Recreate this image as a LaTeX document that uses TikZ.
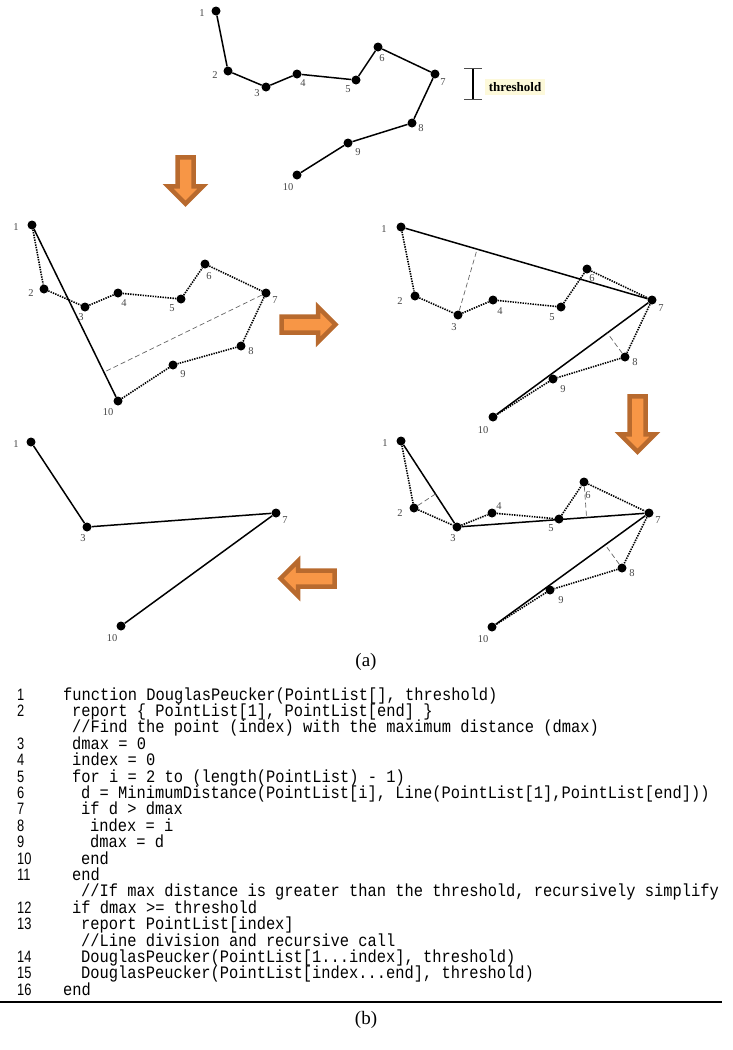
\documentclass[tikz,border=0pt]{standalone}
\usepackage{fontspec}
\setmainfont{Liberation Serif}
\newfontfamily\codefont{Liberation Mono}[FakeStretch=0.88]
\newfontfamily\numfont{Liberation Sans}[FakeStretch=0.78]
\usepackage{tikz}
\usetikzlibrary{calc}
\usetikzlibrary{shapes.arrows}
\usetikzlibrary{arrows.meta}
\definecolor[named]{arrowedge}{RGB}{184,106,46}
\definecolor[named]{arrowfill}{RGB}{247,150,70}

\begin{document}
\begin{tikzpicture}[x=1pt,y=-1pt]
    \definecolor{lblgray}{RGB}{70,70,70};
    \definecolor{thrfill}{RGB}{253,249,218};
   \useasboundingbox (0,0) rectangle (733,1050);
   \tikzstyle{pt}=[draw=none,shape=circle,fill=black,inner sep=0pt,minimum size=9pt]
   \tikzstyle{lbl}=[inner sep=0pt,text=lblgray,font=\fontsize{10.5}{10.5}\selectfont]
   \tikzstyle{seg}=[line width=1.5pt]
   \tikzstyle{dots}=[line width=1.6pt,dash pattern=on 1.4pt off 1.1pt]
   \tikzstyle{perp}=[line width=0.7pt,draw=black!60,dash pattern=on 5pt off 3pt]
   \tikzstyle{bigarrow}=[single arrow,draw=arrowedge,fill=arrowfill,line width=4.5pt,inner xsep=0pt,inner ysep=5.75pt,single arrow head extend=9.5pt,minimum height=54pt]
   \tikzstyle{code}=[anchor=base west,inner sep=0pt,font=\codefont\fontsize{17.5}{18}\selectfont]
   \tikzstyle{num}=[anchor=base west,inner sep=0pt,font=\numfont\fontsize{16.5}{16.5}\selectfont]
   % original line
   \foreach \n/\x/\y/\lx/\ly in {1/216/11/202/13, 2/228/71/215/75, 3/266/87/257/93, 4/297/74/303/83, 5/356/80/348/89,
      6/378/47/382/58, 7/435/74/443/82, 8/412/123/421/128, 9/348/143/358/152, 10/297/175/288/187}
   {
      \node[pt] (orig\n) at (\x,\y) {};
      \node[lbl] (origlbl\n) at (\lx,\ly) {\n};
   }
   \foreach \n [remember=\n as \lastn (initially 1)] in {2,...,10}
      \draw[seg] (orig\lastn) -- (orig\n);
   \coordinate (thrtop) at (473,68);
   \coordinate (thrbot) at (473,100);
   \draw[line width=2.2pt,{Bar[width=18pt,line width=1.2pt,color=black!70]}-{Bar[width=18pt,line width=1.2pt,color=black!70]}] (thrtop) -- (thrbot);
   \node[fill=thrfill,inner xsep=4pt,inner ysep=3pt,font=\fontsize{13}{13}\selectfont] (thrlbl) at (515,87) {\textbf{threshold}};
   % first split: 1 to 10
   \foreach \n/\x/\y/\lx/\ly in {1/32/225/16/227, 2/44/289/31/293, 3/85/307/81/317, 4/118/293/124/303, 5/181/299/172/308,
      6/205/264/209/276, 7/266/293/275/300, 8/241/346/251/351, 9/173/365/183/374, 10/118/401/108/412}
   {
      \node[pt] (first\n) at (\x,\y) {};
      \node[lbl] (firstlbl\n) at (\lx,\ly) {\n};
   }
   \foreach \n [remember=\n as \lastn (initially 1)] in {2,...,10}
      \draw[dots] (first\lastn) -- (first\n);
   \draw[seg] (first1) -- (first10);
   \coordinate (firstfoot7) at ($(first1)!(first7)!(first10)$);
   \draw[perp] (first7) -- (firstfoot7);
   % second split: 1 to 7 to 10
   \foreach \n/\x/\y/\lx/\ly in {1/401/227/384/229, 2/415/296/400/301, 3/458/315/454/327, 4/493/300/500/311, 5/561/307/552/317,
      6/587/269/592/278, 7/652/300/661/308, 8/625/357/635/362, 9/553/379/563/389, 10/493/417/483/430}
   {
      \node[pt] (second\n) at (\x,\y) {};
      \node[lbl] (secondlbl\n) at (\lx,\ly) {\n};
   }
   \foreach \n [remember=\n as \lastn (initially 1)] in {2,...,10}
      \draw[dots] (second\lastn) -- (second\n);
   \draw[seg] (second1) -- (second7) -- (second10);
   \coordinate (secondfoot3) at ($(second1)!(second3)!(second7)$);
   \coordinate (secondfoot8) at ($(second7)!(second8)!(second10)$);
   \draw[perp] (second3) -- (secondfoot3);
   \draw[perp] (second8) -- (secondfoot8);
   % third split: 1 to 3 to 7 to 10
   \foreach \n/\x/\y/\lx/\ly in {1/401/441/385/443, 2/414/508/400/513, 3/457/527/453/538, 4/492/513/499/506, 5/559/519/551/528,
      6/584/482/588/495, 7/649/513/658/520, 8/622/568/632/573, 9/550/590/561/600, 10/492/627/483/639}
   {
      \node[pt] (third\n) at (\x,\y) {};
      \node[lbl] (thirdlbl\n) at (\lx,\ly) {\n};
   }
   \foreach \n [remember=\n as \lastn (initially 1)] in {2,...,10}
      \draw[dots] (third\lastn) -- (third\n);
   \draw[seg] (third1) -- (third3) -- (third7) -- (third10);
   \coordinate (thirdfoot2) at ($(third1)!(third2)!(third3)$);
   \coordinate (thirdfoot6) at ($(third3)!(third6)!(third7)$);
   \coordinate (thirdfoot8) at ($(third7)!(third8)!(third10)$);
   \draw[perp] (third2) -- (thirdfoot2);
   \draw[perp] (third6) -- (thirdfoot6);
   \draw[perp] (third8) -- (thirdfoot8);
   % result
   \foreach \n/\x/\y/\lx/\ly in {1/31/442/16/444, 3/87/527/83/538, 7/276/513/285/520, 10/121/626/112/638}
   {
      \node[pt] (final\n) at (\x,\y) {};
      \node[lbl] (finallbl\n) at (\lx,\ly) {\n};
   }
   \draw[seg] (final1) -- (final3) -- (final7) -- (final10);
   % block arrows
   \node[bigarrow,rotate=-90,minimum height=46.5pt] (arrowdown) at (185.5,176.5) {};
   \node[bigarrow] (arrowright) at (304.5,324.5) {};
   \node[bigarrow,rotate=-90,minimum height=55.5pt] (arrowdowntwo) at (637.5,420) {};
   \node[bigarrow,rotate=180] (arrowleft) at (311.5,578.5) {};
   \node[font=\fontsize{19}{19}\selectfont] (capa) at (366,662) {(a)};
   % pseudo code
   \node[num] (n1) at (17,700) {1};
   \node[code] (c1) at (63,700) {function DouglasPeucker(PointList[], threshold)};
   \node[num] (n2) at (17,716.4) {2};
   \node[code] (c2) at (72,716.4) {report \{ PointList[1], PointList[end] \}};
   \node[code] (cm1) at (72,732.8) {//Find the point (index) with the maximum distance (dmax)};
   \node[num] (n3) at (17,749.2) {3};
   \node[code] (c3) at (72,749.2) {dmax = 0};
   \node[num] (n4) at (17,765.6) {4};
   \node[code] (c4) at (72,765.6) {index = 0};
   \node[num] (n5) at (17,782) {5};
   \node[code] (c5) at (72,782) {for i = 2 to (length(PointList) - 1)};
   \node[num] (n6) at (17,798.4) {6};
   \node[code] (c6) at (81,798.4) {d = MinimumDistance(PointList[i], Line(PointList[1],PointList[end]))};
   \node[num] (n7) at (17,814.8) {7};
   \node[code] (c7) at (81,814.8) {if d > dmax};
   \node[num] (n8) at (17,831.2) {8};
   \node[code] (c8) at (90,831.2) {index = i};
   \node[num] (n9) at (17,847.6) {9};
   \node[code] (c9) at (90,847.6) {dmax = d};
   \node[num] (n10) at (17,864) {10};
   \node[code] (c10) at (81,864) {end};
   \node[num] (n11) at (17,880.4) {11};
   \node[code] (c11) at (72,880.4) {end};
   \node[code] (cm2) at (81,896.8) {//If max distance is greater than the threshold, recursively simplify};
   \node[num] (n12) at (17,913.2) {12};
   \node[code] (c12) at (72,913.2) {if dmax >= threshold};
   \node[num] (n13) at (17,929.6) {13};
   \node[code] (c13) at (81,929.6) {report PointList[index]};
   \node[code] (cm3) at (81,946) {//Line division and recursive call};
   \node[num] (n14) at (17,962.4) {14};
   \node[code] (c14) at (81,962.4) {DouglasPeucker(PointList[1...index], threshold)};
   \node[num] (n15) at (17,978.8) {15};
   \node[code] (c15) at (81,978.8) {DouglasPeucker(PointList[index...end], threshold)};
   \node[num] (n16) at (17,995.2) {16};
   \node[code] (c16) at (63,995.2) {end};
   \coordinate (ruleleft) at (0,1002);
   \coordinate (ruleright) at (722,1002);
   \draw[line width=1.2pt] (ruleleft) -- (ruleright);
   \node[font=\fontsize{19}{19}\selectfont] (capb) at (366,1020) {(b)};
 \end{tikzpicture}
\end{document}
